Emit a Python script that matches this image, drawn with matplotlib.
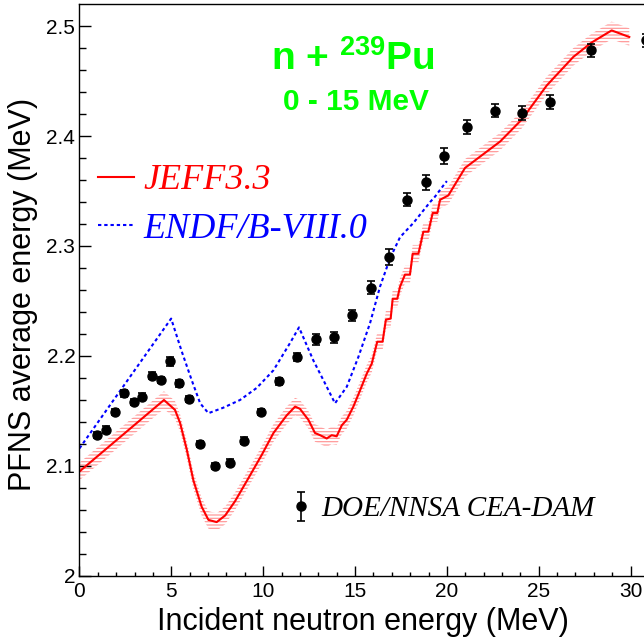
import matplotlib
matplotlib.use('Agg')
import matplotlib.pyplot as plt
from matplotlib.ticker import MultipleLocator, FuncFormatter

# experimental points (DOE/NNSA CEA-DAM)
exp_e = [0.94, 1.45, 1.94, 2.45, 2.95, 3.43, 3.95, 4.44, 4.95, 5.44, 5.95, 6.58,
         7.38, 8.20, 8.94, 9.89, 10.87, 11.86, 12.88, 13.88, 14.86, 15.86, 16.87,
         17.85, 18.87, 19.87, 21.12, 22.62, 24.11, 25.62, 27.85, 30.85]
exp_v = [2.128, 2.133, 2.149, 2.166, 2.158, 2.163, 2.182, 2.178, 2.195, 2.175,
         2.161, 2.120, 2.100, 2.103, 2.123, 2.149, 2.177, 2.199, 2.215, 2.217,
         2.237, 2.262, 2.290, 2.342, 2.358, 2.382, 2.408, 2.423, 2.421, 2.431,
         2.478, 2.487]
exp_err = [0.003, 0.003, 0.003, 0.003, 0.003, 0.003, 0.003, 0.003, 0.004, 0.003,
           0.003, 0.003, 0.003, 0.003, 0.003, 0.003, 0.003, 0.004, 0.005, 0.005,
           0.005, 0.006, 0.007, 0.006, 0.007, 0.007, 0.0065, 0.006, 0.006, 0.006,
           0.006, 0.006]

# JEFF3.3 evaluation
jeff_e = [0, 4.6, 5.2, 5.48, 5.84, 6.2, 6.65, 7.02, 7.47, 7.93, 8.47, 9.2, 9.92,
          10.56, 11.28, 11.74, 12.0, 12.46, 12.82, 13.1, 13.46, 13.73, 14.0, 14.28,
          14.55, 14.91, 15.28, 15.64, 15.91, 16.21, 16.50, 16.68, 16.94, 17.05,
          17.30, 17.45, 17.72, 17.99, 18.14, 18.45, 18.72, 18.99, 19.23, 19.48,
          19.63, 20.08, 20.99, 22.9, 24.08, 25.44, 26.89, 27.88, 28.97, 29.93]
jeff_v = [2.095, 2.160, 2.151, 2.139, 2.115, 2.087, 2.063, 2.051, 2.049, 2.055,
          2.068, 2.089, 2.110, 2.130, 2.146, 2.154, 2.152, 2.142, 2.130, 2.128,
          2.125, 2.128, 2.127, 2.137, 2.142, 2.154, 2.169, 2.184, 2.193, 2.213,
          2.213, 2.233, 2.234, 2.252, 2.252, 2.263, 2.274, 2.274, 2.293, 2.293,
          2.313, 2.313, 2.330, 2.330, 2.342, 2.346, 2.371, 2.395, 2.415, 2.446,
          2.472, 2.485, 2.496, 2.490]
jeff_unc = 0.008

# ENDF/B-VIII.0 evaluation
endf_e = [0, 4.99, 5.57, 6.11, 6.57, 7.02, 7.83, 8.74, 9.65, 10.56, 11.47, 11.95,
          12.73, 13.28, 13.91, 14.55, 15.18, 15.82, 16.36, 16.91, 17.45, 18.18,
          19.09, 19.36, 19.9, 20.0]
endf_v = [2.116, 2.234, 2.204, 2.178, 2.157, 2.148, 2.153, 2.160, 2.171, 2.187,
          2.212, 2.226, 2.196, 2.178, 2.157, 2.172, 2.199, 2.230, 2.263, 2.289,
          2.308, 2.321, 2.340, 2.345, 2.357, 2.359]

plt.rcParams['font.family'] = ['Liberation Sans', 'DejaVu Sans']
plt.rcParams['mathtext.fontset'] = 'custom'
plt.rcParams['mathtext.rm'] = 'Liberation Sans'
plt.rcParams['mathtext.bf'] = 'Liberation Sans:bold'
plt.rcParams['hatch.linewidth'] = 0.9

fig = plt.figure(figsize=(6.44, 6.38), dpi=100)
ax = fig.add_axes([0.1234, 0.0972, 0.9128, 0.896])

# JEFF uncertainty band (hatched) and line
lo = [v - jeff_unc for v in jeff_v]
hi = [v + jeff_unc for v in jeff_v]
ax.fill_between(jeff_e, lo, hi, facecolor='none', edgecolor='#ff9a9a',
                hatch='-----', linewidth=0)
ax.plot(jeff_e, jeff_v, color='red', lw=1.5, label='JEFF3.3')
ax.plot(endf_e, endf_v, color='blue', lw=1.5, ls=(0, (1.6, 1.4)),
        label='ENDF/B-VIII.0')
pts = ax.errorbar(exp_e, exp_v, yerr=exp_err, fmt='o', color='black', ms=6.5,
                  elinewidth=1.2, capsize=3, capthick=1.2, clip_on=False,
                  label='DOE/NNSA CEA-DAM')

ax.set_xlim(0, 32)
ax.set_ylim(2.0, 2.5197)
ax.xaxis.set_major_locator(MultipleLocator(5))
ax.xaxis.set_minor_locator(MultipleLocator(1))
ax.yaxis.set_major_locator(MultipleLocator(0.1))
ax.yaxis.set_minor_locator(MultipleLocator(0.02))
ax.yaxis.set_major_formatter(FuncFormatter(lambda v, p: '%g' % round(v, 3)))
ax.xaxis.set_major_formatter(FuncFormatter(lambda v, p: '%g' % v))

ax.tick_params(axis='x', which='major', direction='in', length=7, width=1,
               labelsize=15, pad=4, top=False)
ax.tick_params(axis='x', which='minor', direction='in', length=3, width=1, top=False)
ax.tick_params(axis='y', which='major', direction='in', length=8.9, width=1,
               labelsize=15, pad=3, right=False)
ax.tick_params(axis='y', which='minor', direction='in', length=4.8, width=1,
               right=False)
for s in ax.spines.values():
    s.set_linewidth(1.0)

ax.set_xlabel('Incident neutron energy (MeV)', fontsize=22)
ax.set_ylabel('PFNS average energy (MeV)', fontsize=22)
ax.xaxis.set_label_coords(0.483, -0.055)
ax.yaxis.set_label_coords(-0.071, 0.493)

# titles
ax.text(0.466, 0.905, 'n + $^{\\mathbf{239}}$Pu', transform=ax.transAxes,
        ha='center', va='center', fontsize=28, fontweight='bold', color='#00ff00')
ax.text(0.47, 0.829, '0 - 15 MeV', transform=ax.transAxes, ha='center',
        va='center', fontsize=21.5, fontweight='bold', color='#00ff00')

# legends
h, l = ax.get_legend_handles_labels()
leg1 = ax.legend(h[:2], l[:2], loc='center left', bbox_to_anchor=(0.0315, 0.649),
                 frameon=False, handlelength=1.0, handletextpad=0.25,
                 borderpad=0, borderaxespad=0, labelspacing=0.42,
                 prop={'family': 'Liberation Serif', 'style': 'italic', 'size': 26})
for t, c in zip(leg1.get_texts(), ['red', 'blue']):
    t.set_color(c)
ax.add_artist(leg1)
ax.legend([pts], ['DOE/NNSA CEA-DAM'], loc='center left',
          bbox_to_anchor=(0.362, 0.117), frameon=False, handlelength=0.6,
          handletextpad=0.4, borderpad=0, borderaxespad=0,
          prop={'family': 'Liberation Serif', 'style': 'italic', 'size': 21})

fig.savefig('out.png', dpi=100, facecolor='white')
